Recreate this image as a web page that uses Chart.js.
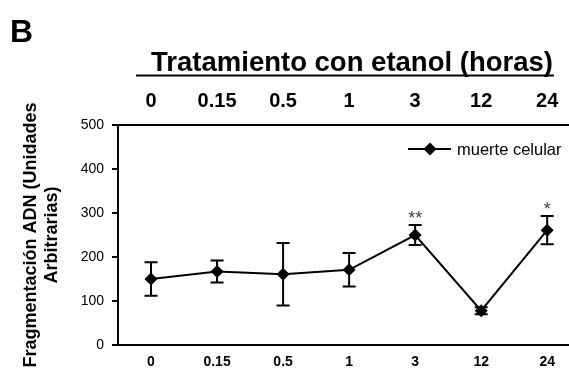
<!DOCTYPE html>
<html><head><meta charset="utf-8">
<script src="https://cdn.jsdelivr.net/npm/chart.js@4"></script>
<style>
html,body{margin:0;padding:0;background:#fff}
#wrap{position:relative;width:569px;height:371px;overflow:hidden}
#panel{position:absolute;left:10px;top:15px;font:bold 32px "Liberation Sans",Arial,sans-serif;color:#000;line-height:1}
canvas{position:absolute;left:0;top:0}
</style>
</head><body><div id="wrap"><canvas id="c" width="569" height="371"></canvas><div id="panel">B</div></div>
<script>
const categories = ['0','0.15','0.5','1','3','12','24'];
const muerteCelular = [150,167,161,171,250,78,261];
const errorSD = [38,25,71,38,23,8,32];
const significance = ['','','','','**','','*'];
const yTicks = [0,100,200,300,400,500];
const seriesLabel = 'muerte celular';
const topTitle = 'Tratamiento con etanol (horas)';
const yTitle = ['Fragmentación ADN (Unidades','Arbitrarias)'];

const FONT = '"Liberation Sans", Arial, sans-serif';

const extras = {
  id: 'extras',
  afterDatasetsDraw(chart) {
    const ctx = chart.ctx, xs = chart.scales.x, ys = chart.scales.y;
    ctx.save();
    ctx.strokeStyle = '#000'; ctx.lineWidth = 2;
    muerteCelular.forEach((v, i) => {
      const x = xs.getPixelForValue(i);
      const yT = ys.getPixelForValue(v + errorSD[i]);
      const yB = ys.getPixelForValue(v - errorSD[i]);
      ctx.beginPath();
      ctx.moveTo(x, yT); ctx.lineTo(x, yB);
      ctx.moveTo(x - 6.5, yT); ctx.lineTo(x + 6.5, yT);
      ctx.moveTo(x - 6.5, yB); ctx.lineTo(x + 6.5, yB);
      ctx.stroke();
      if (significance[i]) {
        ctx.fillStyle = '#444';
        ctx.font = '18px ' + FONT;
        ctx.textAlign = 'center'; ctx.textBaseline = 'alphabetic';
        ctx.fillText(significance[i], x, yT - 1);
      }
    });
    // legend
    const ly = 149;
    ctx.beginPath(); ctx.moveTo(408, ly); ctx.lineTo(451, ly); ctx.stroke();
    ctx.fillStyle = '#000';
    ctx.beginPath();
    ctx.moveTo(430, ly - 6.5); ctx.lineTo(436.5, ly); ctx.lineTo(430, ly + 6.5); ctx.lineTo(423.5, ly);
    ctx.closePath(); ctx.fill();
    ctx.font = '16.5px ' + FONT;
    ctx.textAlign = 'left'; ctx.textBaseline = 'middle';
    ctx.fillText(seriesLabel, 457, ly + 1);
    // top title with underline
    ctx.font = 'bold 27.5px ' + FONT;
    ctx.textAlign = 'center'; ctx.textBaseline = 'alphabetic';
    const w = ctx.measureText(topTitle).width;
    const cx = 352;
    ctx.fillText(topTitle, cx, 71);
    ctx.beginPath(); ctx.moveTo(cx - w / 2 - 15, 75.5); ctx.lineTo(cx + w / 2 + 1, 75.5); ctx.stroke();
    ctx.restore();
  }
};

const xCommon = {
  type: 'linear', min: -0.5, max: 6.33,
  afterBuildTicks: s => { s.ticks = categories.map((c, i) => ({ value: i })); },
  grid: { display: false, drawTicks: false, tickLength: 0 },
  border: { display: true, color: '#000', width: 2 }
};

new Chart(document.getElementById('c'), {
  type: 'line',
  data: {
    datasets: [{
      label: seriesLabel,
      data: muerteCelular.map((v, i) => ({ x: i, y: v })),
      borderColor: '#000', backgroundColor: '#000', borderWidth: 2,
      pointStyle: 'rectRot', pointRadius: 6.5, pointHoverRadius: 6.5,
      pointBackgroundColor: '#000', pointBorderColor: '#000', pointBorderWidth: 0,
      tension: 0, xAxisID: 'x', yAxisID: 'y', clip: false
    }]
  },
  options: {
    responsive: false, animation: false, devicePixelRatio: 1,
    layout: { autoPadding: false, padding: 0 },
    plugins: { legend: { display: false }, tooltip: { enabled: false } },
    scales: {
      x: Object.assign({}, xCommon, {
        position: 'bottom',
        ticks: { callback: v => categories[v], color: '#000', font: { family: FONT, size: 14, weight: 'bold' }, padding: 9, maxRotation: 0, autoSkip: false },
        afterFit: s => { s.height = 26; s.paddingLeft = 0; s.paddingRight = 0; }
      }),
      x2: Object.assign({}, xCommon, {
        position: 'top',
        ticks: { callback: v => categories[v], color: '#000', font: { family: FONT, size: 20, weight: 'bold' }, padding: 12, maxRotation: 0, autoSkip: false },
        afterFit: s => { s.height = 125; s.paddingLeft = 0; s.paddingRight = 0; }
      }),
      y: {
        position: 'left', min: 0, max: 500,
        afterBuildTicks: s => { s.ticks = yTicks.map(v => ({ value: v })); },
        ticks: { color: '#000', font: { family: FONT, size: 14 }, padding: 8 },
        grid: { drawOnChartArea: false, drawTicks: true, tickLength: 6, color: '#000', lineWidth: 2 },
        border: { display: true, color: '#000', width: 2 },
        title: { display: true, text: yTitle, color: '#000', font: { family: FONT, size: 18, weight: 'bold', lineHeight: 1.2 }, padding: { top: 20, bottom: 0 } },
        afterFit: s => { s.width = 118; s.paddingTop = 0; s.paddingBottom = 0; }
      }
    }
  },
  plugins: [extras]
});
</script></body></html>
